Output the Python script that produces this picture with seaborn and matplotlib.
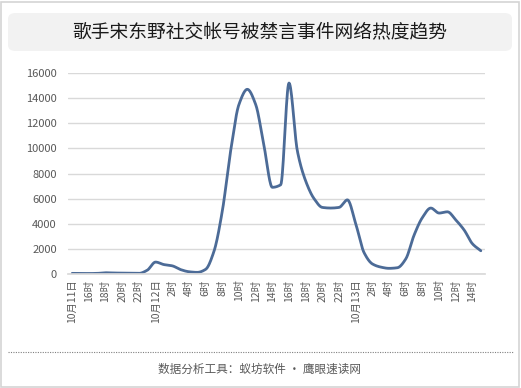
import numpy as np
import pandas as pd
import matplotlib
matplotlib.use('Agg')
import matplotlib.pyplot as plt
import seaborn as sns
from matplotlib.patches import FancyBboxPatch, Rectangle
from matplotlib.lines import Line2D

# Hourly heat values, 10月11日14时 -> 10月13日15时
hours = list(range(50))
heat = [50, 50, 40, 50, 100, 80, 70, 60, 50, 300,
        950, 750, 650, 350, 180, 130, 370, 1800, 5000, 9800,
        13500, 14700, 13500, 10200, 6900, 7100, 15200, 9800, 7400, 6000,
        5300, 5250, 5300, 5900, 4000, 1700, 800, 550, 450, 500,
        1200, 3100, 4500, 5250, 4850, 4950, 4300, 3500, 2400, 1850]

# Tick labels, one every two hours
tick_labels = ['10月11日', '16时', '18时', '20时', '22时',
               '10月12日', '2时', '4时', '6时', '8时', '10时', '12时', '14时',
               '16时', '18时', '20时', '22时',
               '10月13日', '2时', '4时', '6时', '8时', '10时', '12时', '14时']
y_ticks = [0, 2000, 4000, 6000, 8000, 10000, 12000, 14000, 16000]

title = '歌手宋东野社交帐号被禁言事件网络热度趋势'
footer = '数据分析工具：蚁坊软件 · 鹰眼速读网'


def smooth_line(x, y, steps=16):
    # monotone cubic (Fritsch-Carlson) through the points, for a smoothed line
    x = np.asarray(x, float)
    y = np.asarray(y, float)
    h = np.diff(x)
    d = np.diff(y) / h
    m = np.zeros_like(y)
    m[0], m[-1] = d[0], d[-1]
    for i in range(1, len(y) - 1):
        if d[i - 1] * d[i] > 0:
            w1 = 2 * h[i] + h[i - 1]
            w2 = h[i] + 2 * h[i - 1]
            m[i] = (w1 + w2) / (w1 / d[i - 1] + w2 / d[i])
    t = np.linspace(0, 1, steps, endpoint=False)
    h00 = 2 * t ** 3 - 3 * t ** 2 + 1
    h10 = t ** 3 - 2 * t ** 2 + t
    h01 = -2 * t ** 3 + 3 * t ** 2
    h11 = t ** 3 - t ** 2
    xs, ys = [], []
    for i in range(len(y) - 1):
        xs.extend(x[i] + t * h[i])
        ys.extend(h00 * y[i] + h10 * h[i] * m[i] + h01 * y[i + 1] + h11 * h[i] * m[i + 1])
    xs.append(x[-1])
    ys.append(y[-1])
    return np.array(xs), np.array(ys)


sns.set_theme(style='white')
plt.rcParams['font.family'] = ['Noto Sans CJK SC', 'DejaVu Sans']

fig = plt.figure(figsize=(5.21, 3.88), dpi=100)
W, H = 521, 388

# outer border
fig.patches.append(Rectangle((1 / W, 1 / H), 518 / W, 385 / H, transform=fig.transFigure,
                             fill=False, edgecolor='#d4d4d4', linewidth=1.2))
# title box
fig.patches.append(FancyBboxPatch((8 / W, (H - 51) / H), 504 / W, 38 / H,
                                  boxstyle='round,pad=0,rounding_size=0.015',
                                  transform=fig.transFigure, facecolor='#f2f2f2',
                                  edgecolor='none'))
fig.text(260 / W, (H - 31.5) / H, title, ha='center', va='center',
         fontsize=13.5, color='#1a1a1a')

ax = fig.add_axes([68 / W, (H - 274) / H, 417 / W, 201 / H])
df = pd.DataFrame({'hour': hours, 'heat': heat})
sx, sy = smooth_line(df['hour'], df['heat'])
sns.lineplot(x=sx, y=sy, ax=ax, color='#4c6b97', linewidth=2.0, sort=False)

ax.set_xlim(-0.5, len(hours) - 0.5)
ax.set_ylim(0, 16000)
ax.set_yticks(y_ticks)
ax.set_yticklabels([str(v) for v in y_ticks])
ax.set_xticks(hours[::2])
ax.set_xticklabels(tick_labels, rotation=90)
ax.tick_params(axis='both', length=0, labelsize=7.5, labelcolor='#595959')
ax.tick_params(axis='y', pad=8, labelsize=8)
ax.tick_params(axis='x', pad=4)
ax.grid(axis='y', color='#d9d9d9', linewidth=1)
ax.set_axisbelow(True)
for s in ['top', 'right', 'left']:
    ax.spines[s].set_visible(False)
ax.spines['bottom'].set_color('#d9d9d9')
ax.set_xlabel('')
ax.set_ylabel('')

# footer
fig.lines.append(Line2D([8 / W, 513 / W], [(H - 352) / H] * 2, transform=fig.transFigure,
                        color='#808080', linewidth=0.8, linestyle=(0, (1, 1.2))))
fig.text(260 / W, (H - 369) / H, footer, ha='center', va='center',
         fontsize=8.4, color='#595959')

fig.savefig('out.png', dpi=100)
